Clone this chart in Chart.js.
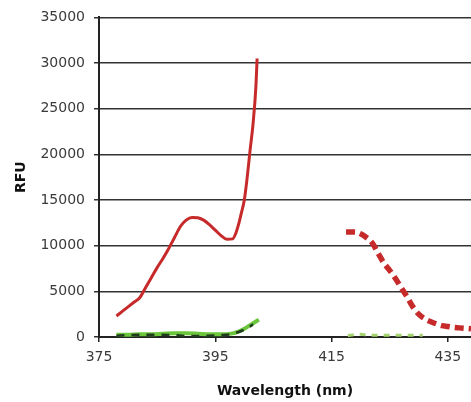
<!DOCTYPE html>
<html>
<head>
<meta charset="utf-8">
<script src="https://cdn.jsdelivr.net/npm/chart.js@4"></script>
<style>
  html, body { margin: 0; padding: 0; background: #fff; }
  #wrap { width: 471px; height: 402px; position: relative; }
</style>
</head>
<body>
<div id="wrap"><canvas id="chart"></canvas></div>
<script>
// values
var xTicks = [375, 395, 415, 435];

var redX = [378, 379, 380, 381, 382, 383, 384, 385, 386, 387, 388, 389, 390, 391, 392, 393, 394, 395, 396, 397, 398, 398.5, 399, 399.5, 400, 400.5, 401, 401.5, 402, 402.2];
var redY = [2300, 2800, 3300, 3800, 4300, 5400, 6500, 7600, 8600, 9700, 10900, 12100, 12800, 13100, 13050, 12800, 12300, 11700, 11100, 10700, 10750, 11300, 12300, 13600, 15000, 17500, 20500, 23300, 27500, 30500];

var redDashX = [417.5, 419, 420, 421, 422, 423, 424, 425, 426, 427, 428, 429, 430, 431, 432, 433, 434, 435, 436, 437, 438, 439];
var redDashY = [11500, 11500, 11300, 10900, 10300, 9200, 8100, 7300, 6400, 5400, 4400, 3300, 2500, 2000, 1700, 1450, 1250, 1150, 1050, 1000, 950, 900];

var greenX = [378, 380, 382, 384, 386, 388, 390, 392, 394, 396, 398, 399, 400, 401, 402, 402.5];
var greenY = [250, 250, 300, 300, 350, 400, 400, 350, 300, 300, 400, 600, 900, 1300, 1700, 1900];

var darkX = [378, 380, 384, 388, 390, 392, 394, 396, 398, 399, 400, 401, 401.5];
var darkY = [150, 200, 250, 200, 100, 100, 150, 200, 350, 550, 800, 1150, 1400];

var lightX = [417.8, 419, 420, 421, 422, 424, 426, 428, 430.7];
var lightY = [150, 250, 300, 220, 200, 200, 200, 200, 200];

function pts(xs, ys) {
    var arr = [];
    for (var i = 0; i < xs.length; i++) {
        arr.push({ x: xs[i], y: ys[i] });
    }
    return arr;
}

var tickFont = { family: 'DejaVu Sans', size: 14 };
var titleFont = { family: 'DejaVu Sans', size: 14, weight: 'bold' };

// first dataset ends up on top, so the red lines go first
var config = {
    type: 'line',
    data: {
        datasets: [
            {
                data: pts(redX, redY),
                borderColor: '#c62a2a',
                borderWidth: 3,
                pointRadius: 0,
                cubicInterpolationMode: 'monotone'
            },
            {
                data: pts(redDashX, redDashY),
                borderColor: '#c62a2a',
                borderWidth: 5.5,
                borderDash: [9, 5],
                pointRadius: 0,
                cubicInterpolationMode: 'monotone'
            },
            {
                data: pts(darkX, darkY),
                borderColor: '#1f3d1c',
                borderWidth: 2.5,
                borderDash: [8, 7],
                pointRadius: 0,
                cubicInterpolationMode: 'monotone'
            },
            {
                data: pts(greenX, greenY),
                borderColor: '#6cc63c',
                borderWidth: 4,
                pointRadius: 0,
                cubicInterpolationMode: 'monotone'
            },
            {
                data: pts(lightX, lightY),
                borderColor: '#a3d46e',
                borderWidth: 3,
                borderDash: [6, 6],
                pointRadius: 0,
                cubicInterpolationMode: 'monotone'
            }
        ]
    },
    options: {
        responsive: true,
        maintainAspectRatio: false,
        animation: false,
        layout: { padding: { top: 17, right: 0, left: 0, bottom: 0 } },
        plugins: {
            legend: { display: false },
            tooltip: { enabled: false }
        },
        scales: {
            x: {
                type: 'linear',
                min: 375,
                max: 439,
                afterBuildTicks: function(scale) {
                    scale.ticks = xTicks.map(function(v) { return { value: v }; });
                },
                afterFit: function(scale) { scale.height = 65; },
                grid: {
                    drawOnChartArea: false,
                    drawTicks: true,
                    tickLength: 5,
                    color: '#222',
                    lineWidth: 1.5
                },
                border: { display: true, color: '#222', width: 2 },
                ticks: {
                    font: tickFont,
                    color: '#3a3a3a',
                    padding: 7,
                    maxRotation: 0,
                    autoSkip: false,
                    callback: function(v) { return String(v); }
                },
                title: {
                    display: true,
                    text: 'Wavelength (nm)',
                    font: titleFont,
                    color: '#111',
                    padding: { top: 0, bottom: 2 }
                }
            },
            y: {
                min: 0,
                max: 35000,
                afterFit: function(scale) { scale.width = 99; },
                grid: {
                    color: '#333',
                    lineWidth: 1.5,
                    tickLength: 5
                },
                border: { display: true, color: '#222', width: 2 },
                ticks: {
                    stepSize: 5000,
                    font: tickFont,
                    color: '#3a3a3a',
                    padding: 9,
                    callback: function(v) { return String(v); }
                },
                title: {
                    display: true,
                    text: 'RFU',
                    font: titleFont,
                    color: '#111',
                    padding: { top: 13, bottom: 0 }
                }
            }
        }
    }
};

var ctx = document.getElementById('chart').getContext('2d');
window.spectraChart = new Chart(ctx, config);
</script>
</body>
</html>
